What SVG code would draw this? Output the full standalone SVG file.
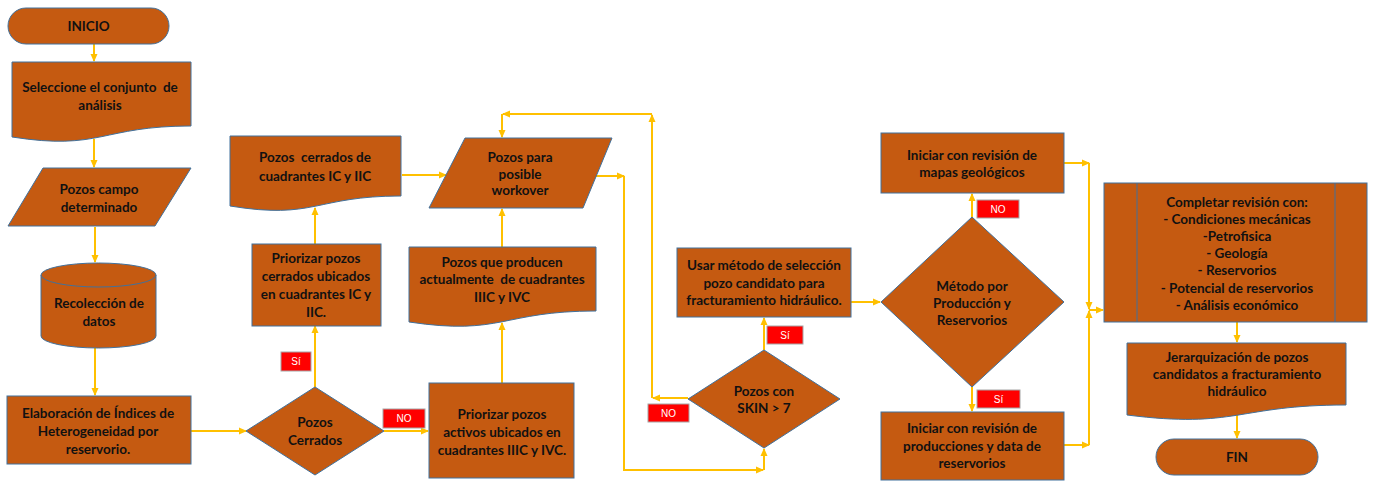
<svg xmlns="http://www.w3.org/2000/svg" width="1375" height="482" viewBox="0 0 1375 482">
<style>
.s{fill:#C55A11;stroke:#41719C;stroke-width:1}
.t{font-family:Lato,"Liberation Sans",sans-serif;font-weight:bold;font-size:13.5px;fill:#111;text-anchor:middle;dominant-baseline:central;white-space:pre}
.c{fill:none;stroke:#FFC000;stroke-width:2}
.lb{fill:#FF0000;stroke:#A6A6A6;stroke-width:1}
.lt{font-family:"Liberation Sans",Arial,sans-serif;font-size:10px;fill:#fff;text-anchor:middle;dominant-baseline:central}
</style>
<defs>
<marker id="ah" markerWidth="8" markerHeight="8" refX="7" refY="4" orient="auto" markerUnits="userSpaceOnUse">
<path d="M0,0.5 L8,4 L0,7.5 Z" fill="#FFC000"/>
</marker>
</defs>
<rect width="1375" height="482" fill="#fff"/>

<g id="connectors">
<path class="c" marker-end="url(#ah)" d="M94,44 V61"/>
<path class="c" marker-end="url(#ah)" d="M94,139 V167"/>
<path class="c" marker-end="url(#ah)" d="M95,227 V262"/>
<path class="c" marker-end="url(#ah)" d="M95,348 V395"/>
<path class="c" marker-end="url(#ah)" d="M191,431 H246"/>
<path class="c" marker-end="url(#ah)" d="M315,387 V326"/>
<path class="c" marker-end="url(#ah)" d="M315,244 V208"/>
<path class="c" marker-end="url(#ah)" d="M402,175 H446"/>
<path class="c" marker-end="url(#ah)" d="M384,431 H428"/>
<path class="c" marker-end="url(#ah)" d="M502,383 V323"/>
<path class="c" marker-end="url(#ah)" d="M502,247 V209"/>
<path class="c" marker-end="url(#ah)" d="M595,176 H624"/>
<path class="c" marker-end="url(#ah)" d="M624,176 V470 H763"/>
<path class="c" marker-end="url(#ah)" d="M764,470 V449"/>
<path class="c" marker-end="url(#ah)" d="M764,350 V318"/>
<path class="c" marker-end="url(#ah)" d="M688,398 H653"/>
<path class="c" marker-end="url(#ah)" d="M652,398 V115"/>
<path class="c" marker-end="url(#ah)" d="M652,114 H503"/>
<path class="c" marker-end="url(#ah)" d="M502,114 V137"/>
<path class="c" marker-end="url(#ah)" d="M851,302 H880"/>
<path class="c" marker-end="url(#ah)" d="M972,217 V194"/>
<path class="c" marker-end="url(#ah)" d="M972,387 V411"/>
<path class="c" marker-end="url(#ah)" d="M1064,163 H1089"/>
<path class="c" marker-end="url(#ah)" d="M1089,163 V309"/>
<path class="c" marker-end="url(#ah)" d="M1089,310 H1103"/>
<path class="c" marker-end="url(#ah)" d="M1064,445 H1089"/>
<path class="c" marker-end="url(#ah)" d="M1089,445 V311"/>
<path class="c" marker-end="url(#ah)" d="M1237,322 V342"/>
<path class="c" marker-end="url(#ah)" d="M1237,413 V438"/>
</g>

<g id="inicio">
<rect class="s" x="8" y="8" width="161" height="36" rx="18"/>
<text class="t" x="88.5" y="26">INICIO</text>
</g>

<g id="seleccione">
<path class="s" d="M12,62 H191 V126 C101,126 101,151 12,137 Z"/>
<text class="t" x="100" y="87">Seleccione el conjunto  de</text>
<text class="t" x="100" y="105">análisis</text>
</g>

<g id="pozos-campo">
<path class="s" d="M43,168 H191 L155,226 H8 Z"/>
<text class="t" x="99" y="189">Pozos campo</text>
<text class="t" x="99" y="207">determinado</text>
</g>

<g id="recoleccion">
<path class="s" d="M41,275 V336 A57.5,12 0 0 0 156,336 V275 A57.5,12 0 0 0 41,275 Z"/>
<path class="s" d="M41,275 A57.5,12 0 0 0 156,275" fill="none"/>
<text class="t" x="99" y="303">Recolección de</text>
<text class="t" x="99" y="321">datos</text>
</g>

<g id="elaboracion">
<rect class="s" x="7" y="396" width="184" height="68"/>
<text class="t" x="98" y="413">Elaboración de Índices de</text>
<text class="t" x="98" y="431">Heterogeneidad por</text>
<text class="t" x="98" y="449">reservorio.</text>
</g>

<g id="pozos-cerrados-dec">
<path class="s" d="M315,387 L384,431 L315,475 L246,431 Z"/>
<text class="t" x="315" y="422">Pozos</text>
<text class="t" x="315" y="440">Cerrados</text>
</g>

<g id="label-si-1">
<rect class="lb" x="281" y="352" width="30" height="19"/>
<text class="lt" x="296" y="361.5">Sí</text>
</g>

<g id="label-no-1">
<rect class="lb" x="383" y="409" width="42" height="19"/>
<text class="lt" x="404" y="418.5">NO</text>
</g>

<g id="priorizar-cerrados">
<rect class="s" x="252" y="244" width="129" height="82"/>
<text class="t" x="316" y="258">Priorizar pozos</text>
<text class="t" x="316" y="276">cerrados ubicados</text>
<text class="t" x="316" y="294">en cuadrantes IC y</text>
<text class="t" x="316" y="312">IIC.</text>
</g>

<g id="pozos-cerrados-doc">
<path class="s" d="M230,136 H401 V196 C315,196 315,220 230,206 Z"/>
<text class="t" x="315" y="157">Pozos  cerrados de</text>
<text class="t" x="315" y="176">cuadrantes IC y IIC</text>
</g>

<g id="priorizar-activos">
<rect class="s" x="429" y="383" width="145" height="95"/>
<text class="t" x="502" y="414">Priorizar pozos</text>
<text class="t" x="502" y="432">activos ubicados en</text>
<text class="t" x="502" y="450">cuadrantes IIIC y IVC.</text>
</g>

<g id="pozos-producen">
<path class="s" d="M409,247 H596 V311 C502,311 502,336 409,322 Z"/>
<text class="t" x="502" y="262">Pozos que producen</text>
<text class="t" x="502" y="279">actualmente  de cuadrantes</text>
<text class="t" x="502" y="297">IIIC y IVC</text>
</g>

<g id="pozos-workover">
<path class="s" d="M465,138 H612 L583,208 H429 Z"/>
<text class="t" x="520" y="157">Pozos para</text>
<text class="t" x="520" y="174">posible</text>
<text class="t" x="520" y="190">workover</text>
</g>

<g id="skin-dec">
<path class="s" d="M764,350 L840,399 L764,448 L688,399 Z"/>
<text class="t" x="764" y="391">Pozos con</text>
<text class="t" x="764" y="408">SKIN &gt; 7</text>
</g>

<g id="label-no-2">
<rect class="lb" x="648" y="404" width="41" height="18"/>
<text class="lt" x="668.5" y="413">NO</text>
</g>

<g id="label-si-2">
<rect class="lb" x="767" y="326" width="36" height="18"/>
<text class="lt" x="785" y="335">Sí</text>
</g>

<g id="usar-metodo">
<rect class="s" x="677" y="248" width="174" height="69"/>
<text class="t" x="764" y="265">Usar método de selección</text>
<text class="t" x="764" y="283">pozo candidato para</text>
<text class="t" x="764" y="300">fracturamiento hidráulico.</text>
</g>

<g id="metodo-dec">
<path class="s" d="M972,217 L1064,302 L972,387 L881,302 Z"/>
<text class="t" x="972" y="286">Método por</text>
<text class="t" x="972" y="303">Producción y</text>
<text class="t" x="972" y="320">Reservorios</text>
</g>

<g id="label-no-3">
<rect class="lb" x="977" y="200" width="42" height="18"/>
<text class="lt" x="998" y="209">NO</text>
</g>

<g id="label-si-3">
<rect class="lb" x="977" y="390" width="43" height="18"/>
<text class="lt" x="998.5" y="399">Sí</text>
</g>

<g id="mapas">
<rect class="s" x="881" y="133" width="183" height="60"/>
<text class="t" x="972" y="155">Iniciar con revisión de</text>
<text class="t" x="972" y="172">mapas geológicos</text>
</g>

<g id="producciones">
<rect class="s" x="881" y="412" width="183" height="68"/>
<text class="t" x="972" y="428">Iniciar con revisión de</text>
<text class="t" x="972" y="446">producciones y data de</text>
<text class="t" x="972" y="463">reservorios</text>
</g>

<g id="completar">
<rect class="s" x="1104" y="183" width="263" height="139"/>
<line x1="1137" y1="183" x2="1137" y2="322" stroke="#41719C" stroke-width="1"/>
<line x1="1335" y1="183" x2="1335" y2="322" stroke="#41719C" stroke-width="1"/>
<text class="t" x="1237" y="202">Completar revisión con:</text>
<text class="t" x="1237" y="219">- Condiciones mecánicas</text>
<text class="t" x="1237" y="236">-Petrofisica</text>
<text class="t" x="1237" y="253">- Geología</text>
<text class="t" x="1237" y="270">- Reservorios</text>
<text class="t" x="1237" y="288">- Potencial de reservorios</text>
<text class="t" x="1237" y="305">- Análisis económico</text>
</g>

<g id="jerarquizacion">
<path class="s" d="M1127,343 H1346 V405 C1237,405 1237,429 1127,415 Z"/>
<text class="t" x="1237" y="357">Jerarquización de pozos</text>
<text class="t" x="1237" y="374">candidatos a fracturamiento</text>
<text class="t" x="1237" y="391">hidráulico</text>
</g>

<g id="fin">
<rect class="s" x="1156" y="439" width="162" height="36" rx="18"/>
<text class="t" x="1237" y="457">FIN</text>
</g>
</svg>
